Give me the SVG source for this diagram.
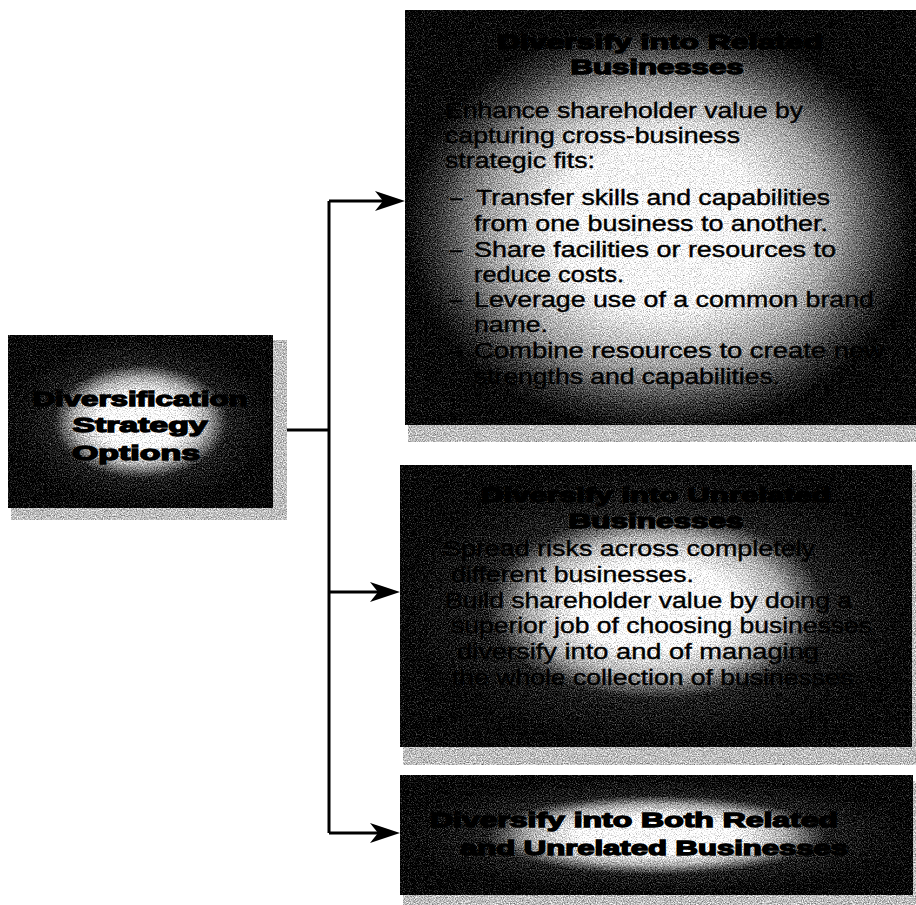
<svg xmlns="http://www.w3.org/2000/svg" width="916" height="905" viewBox="0 0 916 905">
<style>
.b{font-family:"Liberation Sans",Arial,Helvetica,sans-serif;font-size:22px;fill:#000;stroke:#000;stroke-width:0.4}
.t{font-family:"Liberation Sans",Arial,Helvetica,sans-serif;font-weight:bold;font-size:21px;fill:#000;stroke:#000;stroke-width:1.4;text-anchor:middle}
.c{fill:none;stroke:#000;stroke-width:3}
.sh{fill:#bdbdbd}
</style>
<defs>
<filter id="grain" x="0" y="0" width="1" height="1" color-interpolation-filters="sRGB">
<feTurbulence type="fractalNoise" baseFrequency="0.85" numOctaves="2" seed="7" result="n"/>
<feColorMatrix in="n" type="matrix" values="1 0 0 0 0  1 0 0 0 0  1 0 0 0 0  0 0 0 0 1" result="g"/>
<feComposite in="SourceGraphic" in2="g" operator="arithmetic" k1="0" k2="1" k3="1.0" k4="-0.5"/>
</filter>
<radialGradient id="gTop" cx="0.5" cy="0.52" r="0.5">
<stop offset="0" stop-color="#fff"/>
<stop offset="0.4" stop-color="#f8f8f8"/>
<stop offset="0.68" stop-color="#a0a0a0"/>
<stop offset="0.87" stop-color="#383838"/>
<stop offset="1" stop-color="#000"/>
</radialGradient>
<radialGradient id="gBox" cx="0.5" cy="0.5" r="0.5">
<stop offset="0" stop-color="#fff"/>
<stop offset="0.3" stop-color="#fff"/>
<stop offset="0.5" stop-color="#acacac"/>
<stop offset="0.66" stop-color="#1e1e1e"/>
<stop offset="1" stop-color="#000"/>
</radialGradient>
<marker id="ah" viewBox="-30 -10 30 20" refX="-15" refY="0" markerWidth="30" markerHeight="20" markerUnits="userSpaceOnUse" orient="auto">
<path d="M0,0 L-30,-10 L-22,0 L-30,10 Z" fill="#000"/>
</marker>
</defs>
<rect width="916" height="905" fill="#fff"/>

<g id="connectors">
<path class="c" d="M273,430 H329"/>
<path class="c" d="M329,201 V833"/>
<path class="c" d="M329,201 H390" marker-end="url(#ah)"/>
<path class="c" d="M329,592 H385" marker-end="url(#ah)"/>
<path class="c" d="M329,833 H385" marker-end="url(#ah)"/>
</g>

<g id="node-options">
<rect class="sh" x="11" y="340" width="276" height="180" filter="url(#grain)"/>
<rect x="8" y="335" width="265" height="173" fill="url(#gBox)" filter="url(#grain)"/>
<text class="t" x="140" y="406" textLength="215" lengthAdjust="spacingAndGlyphs">Diversification</text>
<text class="t" x="140" y="432" textLength="135" lengthAdjust="spacingAndGlyphs">Strategy</text>
<text class="t" x="136" y="460" textLength="128" lengthAdjust="spacingAndGlyphs">Options</text>
</g>

<g id="node-related">
<rect class="sh" x="408" y="16" width="508" height="426" filter="url(#grain)"/>
<rect x="405" y="10" width="511" height="415" fill="url(#gTop)" filter="url(#grain)"/>
<text class="t" x="660" y="49" textLength="326" lengthAdjust="spacingAndGlyphs">Diversify into Related</text>
<text class="t" x="657" y="74" textLength="173" lengthAdjust="spacingAndGlyphs">Businesses</text>
<text class="b" x="445" y="118" textLength="358" lengthAdjust="spacingAndGlyphs">Enhance shareholder value by</text>
<text class="b" x="445" y="143" textLength="295" lengthAdjust="spacingAndGlyphs">capturing cross-business</text>
<text class="b" x="445" y="168" textLength="150" lengthAdjust="spacingAndGlyphs">strategic fits:</text>
<text class="b" x="450" y="205">–</text>
<text class="b" x="476" y="205" textLength="354" lengthAdjust="spacingAndGlyphs">Transfer skills and capabilities</text>
<text class="b" x="474" y="231" textLength="354" lengthAdjust="spacingAndGlyphs">from one business to another.</text>
<text class="b" x="450" y="257">–</text>
<text class="b" x="474" y="257" textLength="362" lengthAdjust="spacingAndGlyphs">Share facilities or resources to</text>
<text class="b" x="474" y="282" textLength="150" lengthAdjust="spacingAndGlyphs">reduce costs.</text>
<text class="b" x="450" y="307">–</text>
<text class="b" x="474" y="307" textLength="400" lengthAdjust="spacingAndGlyphs">Leverage use of a common brand</text>
<text class="b" x="474" y="332" textLength="74" lengthAdjust="spacingAndGlyphs">name.</text>
<text class="b" x="450" y="358">–</text>
<text class="b" x="474" y="358" textLength="410" lengthAdjust="spacingAndGlyphs">Combine resources to create new</text>
<text class="b" x="474" y="384" textLength="306" lengthAdjust="spacingAndGlyphs">strengths and capabilities.</text>
</g>

<g id="node-unrelated">
<rect class="sh" x="403" y="470" width="513" height="295" filter="url(#grain)"/>
<rect x="400" y="465" width="512" height="282" fill="url(#gBox)" filter="url(#grain)"/>
<text class="t" x="656" y="502" textLength="350" lengthAdjust="spacingAndGlyphs">Diversify into Unrelated</text>
<text class="t" x="656" y="528" textLength="175" lengthAdjust="spacingAndGlyphs">Businesses</text>
<text class="b" x="443" y="556" textLength="372" lengthAdjust="spacingAndGlyphs">Spread risks across completely</text>
<text class="b" x="451" y="582" textLength="243" lengthAdjust="spacingAndGlyphs">different businesses.</text>
<text class="b" x="445" y="608" textLength="407" lengthAdjust="spacingAndGlyphs">Build shareholder value by doing a</text>
<text class="b" x="451" y="633" textLength="421" lengthAdjust="spacingAndGlyphs">superior job of choosing businesses</text>
<text class="b" x="457" y="659" textLength="362" lengthAdjust="spacingAndGlyphs">diversify into and of managing</text>
<text class="b" x="452" y="685" textLength="401" lengthAdjust="spacingAndGlyphs">the whole collection of businesses</text>
</g>

<g id="node-both">
<rect class="sh" x="403" y="781" width="513" height="124" filter="url(#grain)"/>
<rect x="400" y="775" width="513" height="120" fill="url(#gBox)" filter="url(#grain)"/>
<text class="t" x="634" y="827" textLength="408" lengthAdjust="spacingAndGlyphs">Diversify into Both Related</text>
<text class="t" x="654" y="855" textLength="388" lengthAdjust="spacingAndGlyphs">and Unrelated Businesses</text>
</g>
</svg>
